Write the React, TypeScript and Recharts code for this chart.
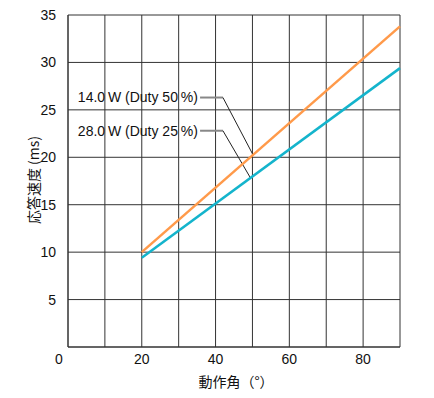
import { CartesianGrid, Line, LineChart, ReferenceDot, ReferenceLine, XAxis, YAxis } from "recharts";

// 動作角 (°) vs 応答速度 (ms)
const angles = [20, 90];
const watt14 = [10.0, 33.8];
const watt28 = [9.4, 29.4];

const xTicks = [0, 10, 20, 30, 40, 50, 60, 70, 80, 90];
const yTicks = [0, 5, 10, 15, 20, 25, 30, 35];

const data = angles.map((a, i) => ({ angle: a, w14: watt14[i], w28: watt28[i] }));

const labelFont = "'Liberation Sans', Arial, sans-serif";
const cjkFont = "'Noto Sans CJK JP', sans-serif";

function XTick(props: any) {
  const { x, y, payload } = props;
  const v = payload.value as number;
  if (v % 20 !== 0) return null;
  return (
    <text x={v === 0 ? x - 9 : x} y={y + 9} textAnchor="middle" fontSize={14} fontFamily={labelFont} fill="#111">
      {v}
    </text>
  );
}

function YTick(props: any) {
  const { x, y, payload } = props;
  if (payload.value === 0) return null;
  return (
    <text x={x} y={y + 5} textAnchor="end" fontSize={14} fontFamily={labelFont} fill="#111">
      {payload.value}
    </text>
  );
}

export default function App() {
  return (
    <div style={{ position: "absolute", left: 0, top: 0, background: "#fff" }}>
      <LineChart width={434} height={398} data={data} margin={{ top: 15, right: 34, bottom: 21, left: 28 }}>
        <CartesianGrid stroke="#333" strokeWidth={1} />
        <XAxis
          dataKey="angle"
          type="number"
          domain={[0, 90]}
          ticks={xTicks}
          interval={0}
          tick={<XTick />}
          tickLine={false}
          axisLine={{ stroke: "#333" }}
          height={30}
        />
        <YAxis
          type="number"
          domain={[0, 35]}
          ticks={yTicks}
          interval={0}
          tick={<YTick />}
          tickLine={false}
          tickMargin={6}
          axisLine={{ stroke: "#333" }}
          width={40}
        />
        <ReferenceLine segment={[{ x: 35.8, y: 26.3 }, { x: 42, y: 26.3 }]} stroke="#888" strokeWidth={2} />
        <ReferenceLine segment={[{ x: 42, y: 26.3 }, { x: 50.1, y: 20.3 }]} stroke="#222" strokeWidth={1} />
        <ReferenceLine segment={[{ x: 35.8, y: 22.8 }, { x: 42, y: 22.8 }]} stroke="#888" strokeWidth={2} />
        <ReferenceLine segment={[{ x: 42, y: 22.8 }, { x: 49.5, y: 17.8 }]} stroke="#222" strokeWidth={1} />
        <Line type="linear" dataKey="w14" stroke="#ff9a4a" strokeWidth={2.5} dot={false} isAnimationActive={false} />
        <Line type="linear" dataKey="w28" stroke="#14b4cc" strokeWidth={2.5} dot={false} isAnimationActive={false} />
        <ReferenceDot
          x={35.2}
          y={26.3}
          r={0}
          stroke="none"
          label={{ value: "14.0\u2009W (Duty 50\u2009%)", position: "left", offset: 0, fontSize: 14, fontFamily: labelFont, fill: "#111" }}
        />
        <ReferenceDot
          x={35.2}
          y={22.8}
          r={0}
          stroke="none"
          label={{ value: "28.0\u2009W (Duty 25\u2009%)", position: "left", offset: 0, fontSize: 14, fontFamily: labelFont, fill: "#111" }}
        />
      </LineChart>
      <svg width={434} height={398} style={{ position: "absolute", left: 0, top: 0, pointerEvents: "none" }}>
        <text
          x={33}
          y={180}
          transform="rotate(-90 33 180)"
          textAnchor="middle"
          dominantBaseline="central"
          fontSize={14}
          fontFamily={cjkFont}
          fill="#111"
        >
          応答速度 (ms)
        </text>
        <text x={236} y={381} textAnchor="middle" dominantBaseline="central" fontSize={14} fontFamily={cjkFont} fill="#111">
          動作角（°）
        </text>
      </svg>
    </div>
  );
}
